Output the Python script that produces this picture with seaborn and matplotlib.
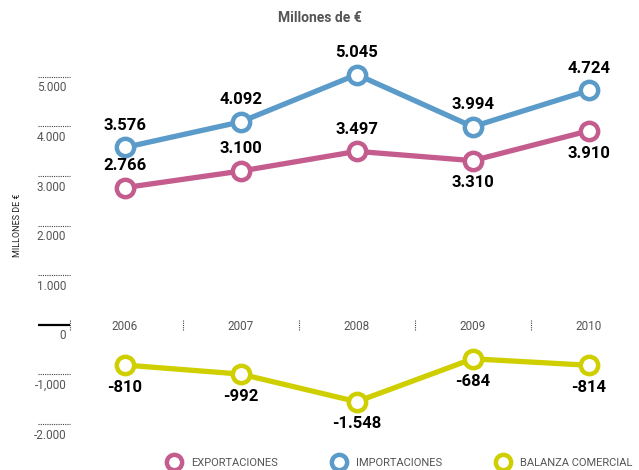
import pandas as pd
import matplotlib.pyplot as plt
import seaborn as sns
from matplotlib.lines import Line2D

# ------------ DATA ------------
years = ["2006", "2007", "2008", "2009", "2010"]
exportaciones = [2766, 3100, 3497, 3310, 3910]
importaciones = [3576, 4092, 5045, 3994, 4724]
balanza = [-810, -992, -1548, -684, -814]

series_names = ["EXPORTACIONES", "IMPORTACIONES", "BALANZA COMERCIAL"]
colors = ["#C45C8E", "#5A9BC9", "#CFCF00"]
y_ticks = [5000, 4000, 3000, 2000, 1000, 0, -1000, -2000]
y_tick_labels = ["5.000", "4.000", "3.000", "2.000", "1.000", "0", "-1,000", "-2.000"]

# label placement: +1 above point, -1 below point
export_pos = [1, 1, 1, -1, -1]
import_pos = [1, 1, 1, 1, 1]
balanza_pos = [-1, -1, -1, -1, -1]

# ------------ LONG FORMAT ------------
df = pd.DataFrame({
    "idx": list(range(len(years))) * 3,
    "valor": exportaciones + importaciones + balanza,
    "serie": [series_names[0]] * 5 + [series_names[1]] * 5 + [series_names[2]] * 5,
})

sns.set_style("white")
plt.rcParams["font.family"] = ["Roboto", "DejaVu Sans"]

fig = plt.figure(figsize=(6.39, 4.70), dpi=100)
W, H = 639, 470
# axes box in pixels: x 38..635, y 47..439
ax = fig.add_axes([38 / W, (H - 439) / H, (635 - 38) / W, (439 - 47) / H])
ax.set_xlim(-0.75, 4.4)
ax.set_ylim(-2300, 5600)

sns.lineplot(data=df, x="idx", y="valor", hue="serie", palette=colors,
             hue_order=series_names, marker="o", markersize=12.5,
             markerfacecolor="white", markeredgewidth=3.2, linewidth=3.8,
             legend=False, ax=ax, zorder=3)
for line, c in zip(ax.lines, colors):
    line.set_markeredgecolor(c)
    line.set_clip_on(False)

for s in ax.spines.values():
    s.set_visible(False)
ax.set_xticks([])
ax.set_yticks([])
ax.set_xlabel("")
ax.set_ylabel("")

# y ticks: short dotted lines with label below
for v, lab in zip(y_ticks, y_tick_labels):
    if v == 0:
        ax.hlines(v, -0.75, -0.47, color="black", lw=1.6, clip_on=False)
    else:
        ax.hlines(v, -0.75, -0.47, color="#444444", lw=0.8,
                  linestyles=(0, (1, 1)), clip_on=False)
    ax.annotate(lab, (-0.47, v), xytext=(-3, -8), textcoords="offset points",
                ha="right", va="center", fontsize=8.5, color="#555555")

# year labels along zero line, dotted separators between years
for i, yr in enumerate(years):
    ax.annotate(yr, (i, 0), xytext=(0, -1.5), textcoords="offset points",
                ha="center", va="center", fontsize=8.5, color="#555555")
for xs in [-0.47, 0.5, 1.5, 2.5, 3.5]:
    ax.vlines(xs, -110, 100, color="#444444", lw=0.8,
              linestyles=(0, (1, 1)), clip_on=False)

# data labels
def fmt(v):
    return f"{v:,}".replace(",", ".")

for vals, pos in [(exportaciones, export_pos), (importaciones, import_pos), (balanza, balanza_pos)]:
    for i, (v, p) in enumerate(zip(vals, pos)):
        ax.annotate(fmt(v), (i, v), xytext=(0, 16 * p), textcoords="offset points",
                    ha="center", va="center", fontsize=12, fontweight="bold",
                    color="black")

fig.text(320 / W, 1 - 18 / H, "Millones de €", ha="center", va="center",
         fontsize=10, fontweight="bold", color="#555555")
fig.text(18 / W, 1 - 225 / H, "MILLONES DE €", rotation=90, ha="center",
         va="center", fontsize=6.5, color="#222222")

handles = [Line2D([], [], marker="o", linestyle="none", markersize=11,
                  markerfacecolor="white", markeredgecolor=c, markeredgewidth=3.2)
           for c in colors]
fig.legend(handles, series_names, loc="center", bbox_to_anchor=(0.626, 7 / H),
           ncol=3, frameon=False, fontsize=8, labelcolor="#555555",
           handletextpad=0.9, columnspacing=4.9, handlelength=1.2)

fig.savefig("out.png", dpi=100)
